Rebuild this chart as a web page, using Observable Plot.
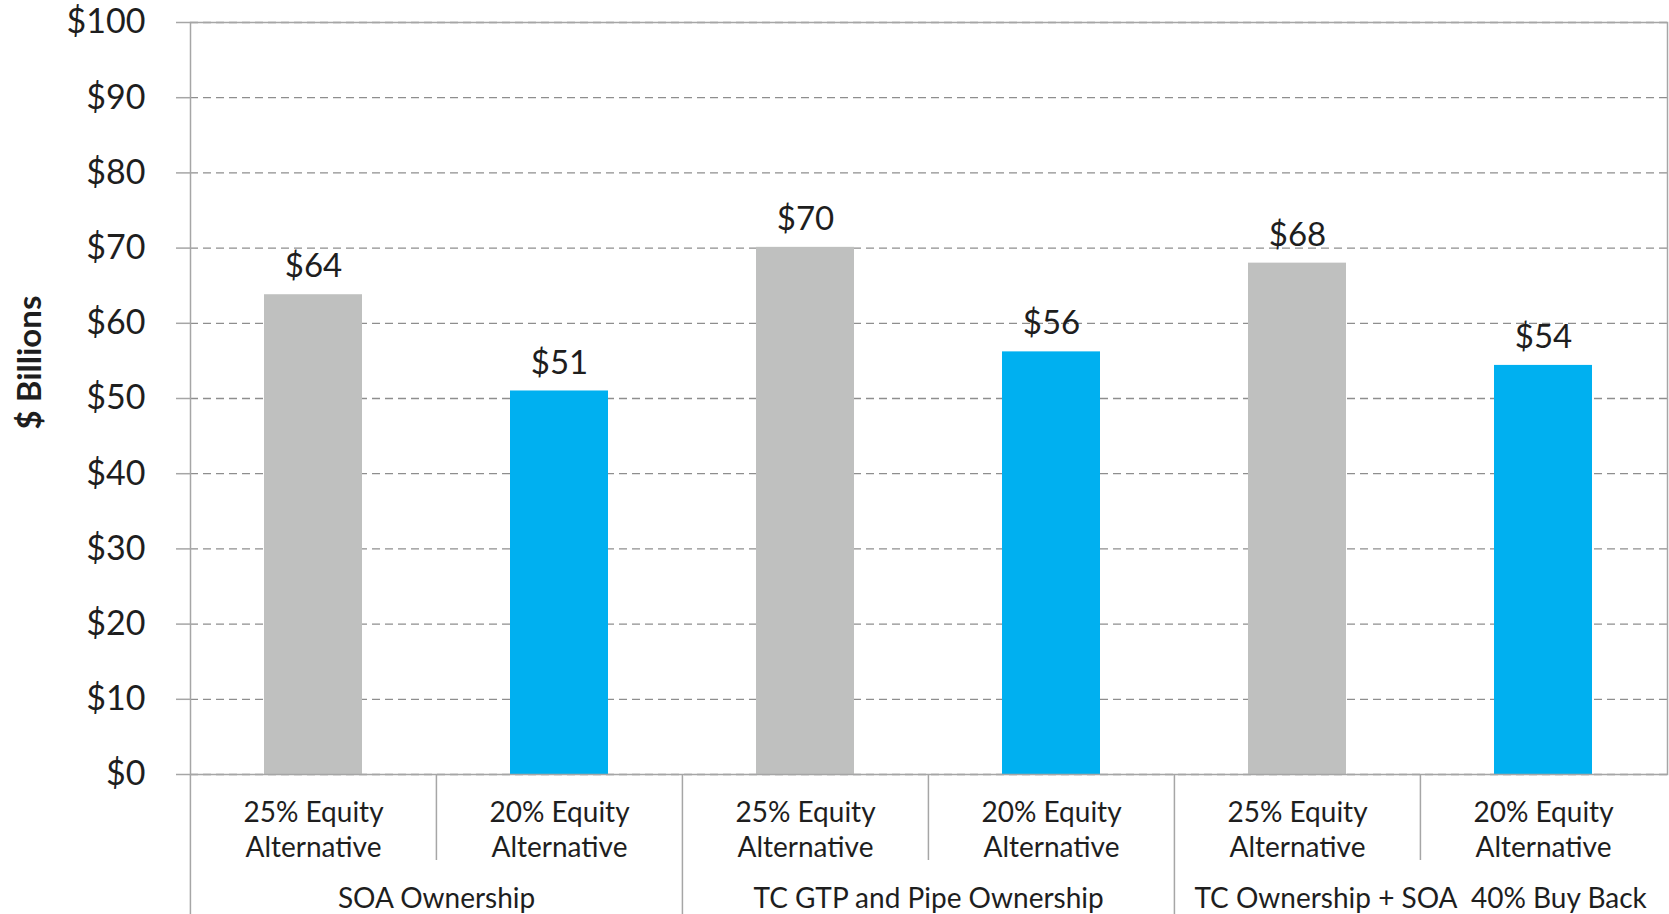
<!DOCTYPE html>
<html>
<head>
<meta charset="utf-8">
<script src="https://cdn.jsdelivr.net/npm/d3@7"></script>
<script src="https://cdn.jsdelivr.net/npm/@observablehq/plot@0.6"></script>
<style>
  body { margin: 0; background: #fff; }
  #chart { width: 1669px; height: 914px; }
  #chart svg text { white-space: pre; }
</style>
</head>
<body>
<div id="chart"></div>
<script>
// ---- data ----
const groups = ["SOA Ownership", "TC GTP and Pipe Ownership", "TC Ownership + SOA  40% Buy Back"];
const alternatives = ["25% Equity\nAlternative", "20% Equity\nAlternative"];
const values = [63.8, 51.0, 70.1, 56.2, 68.0, 54.4];
const valueLabels = ["$64", "$51", "$70", "$56", "$68", "$54"];
const yTicks = [0, 10, 20, 30, 40, 50, 60, 70, 80, 90, 100];
const yTitle = "$ Billions";

// ---- table built from the arrays ----
const rows = groups.flatMap((g, gi) => alternatives.map((a, ai) => {
  const i = gi * alternatives.length + ai;
  return {key: i, group: g, alt: a, value: values[i], label: valueLabels[i]};
}));
const groupRows = groups.map((g, gi) => ({group: g, firstKey: gi * alternatives.length}));

// ---- layout ----
const W = 1669, H = 914;
const mL = 190, mR = 2, mT = 22, mB = 140;
const step = (W - mL - mR) / rows.length; // band step (paddingOuter = paddingInner / 2)
const axisGray = "#a6a6a6";
const ink = "#1e1e1e";

const chart = Plot.plot({
  width: W,
  height: H,
  marginLeft: mL,
  marginRight: mR,
  marginTop: mT,
  marginBottom: mB,
  style: {fontFamily: "Lato, 'Open Sans', sans-serif", color: ink, background: "#fff"},
  x: {type: "band", domain: rows.map(d => d.key), paddingInner: 0.6, paddingOuter: 0.3, label: null},
  y: {domain: [0, 100], label: null},
  color: {domain: alternatives, range: ["#bfc0bf", "#00b0f0"]},
  marks: [
    Plot.gridY(yTicks, {stroke: "#8e8e8e", strokeOpacity: 1, strokeWidth: 1.3, strokeDasharray: "8,5"}),
    Plot.barY(rows, {x: "key", y: "value", fill: "alt"}),
    Plot.text(rows, {x: "key", y: "value", text: "label", dy: -28, fontSize: 33, fill: ink}),
    Plot.frame({stroke: axisGray, strokeWidth: 1.5}),
    Plot.axisY(yTicks, {tickSize: 14, tickPadding: 31, fontSize: 34, tickFormat: d => "$" + d,
                        stroke: axisGray, strokeWidth: 1.5, fill: ink}),
    // category labels
    Plot.axisX({tickSize: 0, tickPadding: 23, fontSize: 28, lineHeight: 1.25,
                tickFormat: d => rows[d].alt, fill: ink}),
    // separators between alternatives inside a group
    Plot.axisX(rows.filter(d => d.key % alternatives.length !== 0).map(d => d.key),
               {tickSize: 86, dx: -step / 2, tickFormat: () => "", stroke: axisGray, strokeWidth: 1.5}),
    // separators between groups (reach to the bottom)
    Plot.axisX(groupRows.map(d => d.firstKey),
               {tickSize: 140, dx: -step / 2, tickFormat: () => "", stroke: axisGray, strokeWidth: 1.5}),
    // group labels, centred across their two bands
    Plot.text(groupRows, {x: "firstKey", dx: step / 2, frameAnchor: "bottom", lineAnchor: "middle", dy: 125,
                          text: "group", fontSize: 28, fill: ink}),
    // y title
    Plot.text([yTitle], {frameAnchor: "left", textAnchor: "middle", dx: -160, dy: -36, rotate: -90,
                         fontSize: 33, fontWeight: "bold", fill: ink})
  ]
});
document.getElementById("chart").append(chart);
</script>
</body>
</html>
